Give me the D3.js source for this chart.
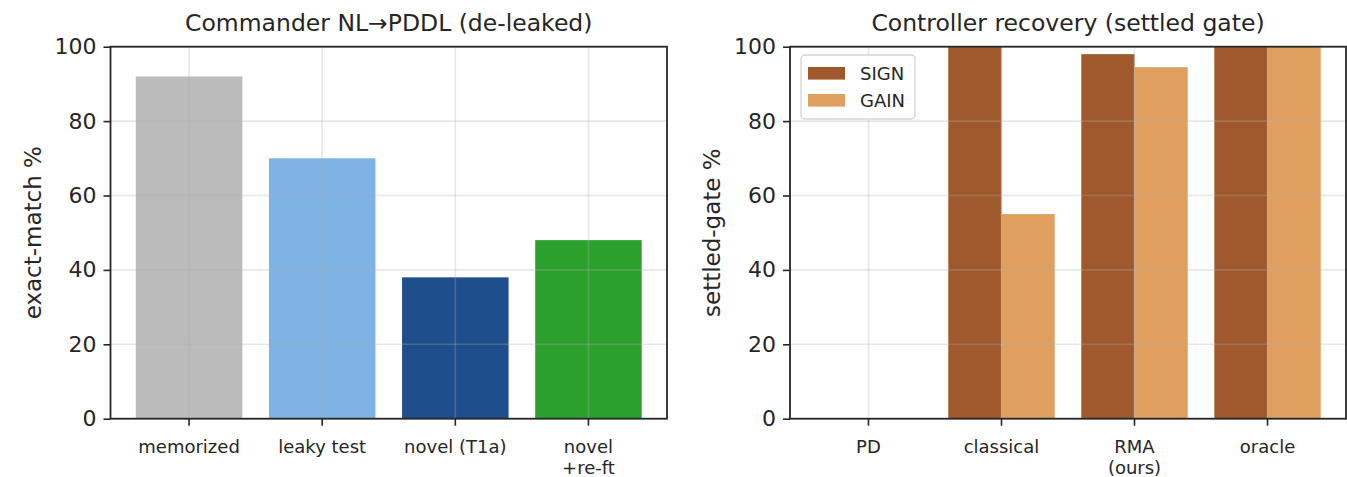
<!DOCTYPE html>
<html>
<head>
<meta charset="utf-8">
<script src="https://cdn.jsdelivr.net/npm/d3@7"></script>
<style>
  html, body { margin: 0; padding: 0; background: #fff; }
  svg { display: block; font-family: "DejaVu Sans", sans-serif; }
</style>
</head>
<body>
<svg id="chart" width="1347" height="477"></svg>
<script>
// ---- data ----
const leftCategories = ["memorized", "leaky test", "novel (T1a)", "novel\n+re-ft"];
const leftValues = [92, 70, 38, 48];
const leftColors = ["#bbbbbb", "#7fb2e5", "#1f4e8c", "#2ca02c"];

const rightCategories = ["PD", "classical", "RMA\n(ours)", "oracle"];
const seriesNames = ["SIGN", "GAIN"];
const signValues = [0, 100, 98, 100];
const gainValues = [0, 55, 94.5, 100];
const seriesColors = ["#a0592c", "#e09f5e"];

const yTicks = [0, 20, 40, 60, 80, 100];

const leftTitle = "Commander NL→PDDL (de-leaked)";
const rightTitle = "Controller recovery (settled gate)";
const leftYLabel = "exact-match %";
const rightYLabel = "settled-gate %";

// ---- layout ----
const svg = d3.select("#chart");
const yTop = 46.7, yBottom = 418.7;
const panels = [
  { x0: 110.5, x1: 667 },
  { x0: 790, x1: 1346 }
];

function makeX(cats, p) {
  return d3.scaleBand().domain(d3.range(cats.length)).range([p.x0, p.x1])
    .paddingInner(0.2).paddingOuter(0.19);
}
const y = d3.scaleLinear().domain([0, 100]).range([yBottom, yTop]);

function drawFrame(g, x, cats, p, title, ylabel) {
  // grid (above bars)
  const grid = g.append("g").attr("class", "grid");
  grid.selectAll("line.h").data(yTicks).join("line")
    .attr("x1", p.x0).attr("x2", p.x1)
    .attr("y1", d => y(d)).attr("y2", d => y(d))
    .attr("stroke", "#b0b0b0").attr("stroke-opacity", 0.3).attr("stroke-width", 1.6);
  grid.selectAll("line.v").data(d3.range(cats.length)).join("line")
    .attr("x1", d => x(d) + x.bandwidth() / 2).attr("x2", d => x(d) + x.bandwidth() / 2)
    .attr("y1", yTop).attr("y2", yBottom)
    .attr("stroke", "#b0b0b0").attr("stroke-opacity", 0.3).attr("stroke-width", 1.6);

  // y axis
  const ya = g.append("g").attr("transform", `translate(${p.x0},0)`)
    .call(d3.axisLeft(y).tickValues(yTicks).tickSize(7).tickPadding(7).tickFormat(d3.format("d")));
  ya.select(".domain").remove();
  ya.selectAll(".tick line").attr("stroke", "#262626").attr("stroke-width", 1.6);
  ya.selectAll(".tick text").attr("font-size", 22).attr("fill", "#262626")
    .attr("font-family", "DejaVu Sans");

  // x axis
  const xa = g.append("g").attr("transform", `translate(0,${yBottom})`)
    .call(d3.axisBottom(x).tickSize(7).tickPadding(7).tickFormat(i => cats[i]));
  xa.select(".domain").remove();
  xa.selectAll(".tick line").attr("stroke", "#262626").attr("stroke-width", 1.6);
  xa.selectAll(".tick text").each(function(i) {
    const t = d3.select(this);
    const lines = cats[i].split("\n");
    t.text(null).attr("font-size", 18).attr("fill", "#262626")
      .attr("font-family", "DejaVu Sans").attr("dy", null).attr("y", 0);
    lines.forEach((ln, k) => {
      t.append("tspan").attr("x", 0).attr("y", 34 + k * 21).text(ln);
    });
  });

  // spines
  g.append("rect").attr("x", p.x0).attr("y", yTop)
    .attr("width", p.x1 - p.x0).attr("height", yBottom - yTop)
    .attr("fill", "none").attr("stroke", "#262626").attr("stroke-width", 1.8);

  // title
  g.append("text").attr("x", (p.x0 + p.x1) / 2).attr("y", 31)
    .attr("text-anchor", "middle").attr("font-size", 23.5).attr("fill", "#262626")
    .text(title);

  // y label
  g.append("text")
    .attr("transform", `translate(${p.x0 - 70},${(yTop + yBottom) / 2}) rotate(-90)`)
    .attr("text-anchor", "middle").attr("font-size", 23).attr("fill", "#262626")
    .text(ylabel);
}

// ---- left panel ----
{
  const p = panels[0];
  const g = svg.append("g");
  const x = makeX(leftCategories, p);
  g.append("g").selectAll("rect").data(leftValues).join("rect")
    .attr("x", (d, i) => x(i)).attr("width", x.bandwidth())
    .attr("y", d => y(d)).attr("height", d => y(0) - y(d))
    .attr("fill", (d, i) => leftColors[i]);
  drawFrame(g, x, leftCategories, p, leftTitle, leftYLabel);
}

// ---- right panel ----
{
  const p = panels[1];
  const g = svg.append("g");
  const x = makeX(rightCategories, p);
  const xs = d3.scaleBand().domain(seriesNames).range([0, x.bandwidth()]).padding(0);
  const series = [signValues, gainValues];
  seriesNames.forEach((name, s) => {
    g.append("g").selectAll("rect").data(series[s]).join("rect")
      .attr("x", (d, i) => x(i) + xs(name)).attr("width", xs.bandwidth())
      .attr("y", d => y(d)).attr("height", d => y(0) - y(d))
      .attr("fill", seriesColors[s]);
  });
  drawFrame(g, x, rightCategories, p, rightTitle, rightYLabel);

  // legend
  const lg = g.append("g").attr("transform", `translate(${p.x0 + 11},55)`);
  lg.append("rect").attr("x", 0).attr("y", 0).attr("width", 114).attr("height", 64)
    .attr("rx", 4).attr("fill", "#ffffff").attr("fill-opacity", 0.85)
    .attr("stroke", "#d6d6d6").attr("stroke-width", 1.4);
  seriesNames.forEach((name, s) => {
    lg.append("rect").attr("x", 7).attr("y", 12 + s * 27).attr("width", 37).attr("height", 12.6)
      .attr("fill", seriesColors[s]);
    lg.append("text").attr("x", 59).attr("y", 18.5 + s * 27).attr("dy", "0.35em")
      .attr("font-size", 18).attr("fill", "#262626").text(name);
  });
}
</script>
</body>
</html>
